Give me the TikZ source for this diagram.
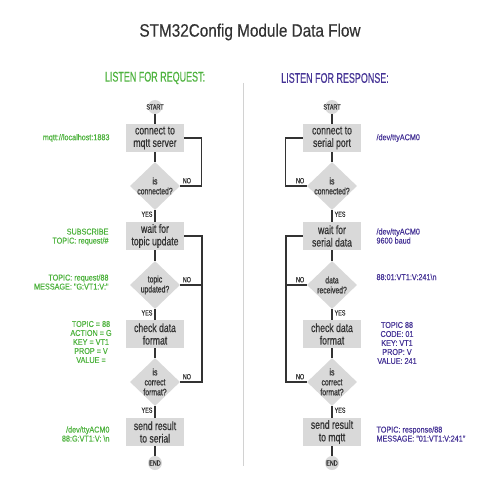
\documentclass[tikz,border=0pt]{standalone}
\usepackage{fontspec}
\setmainfont[FakeStretch=0.72, FakeBold=0.6]{Liberation Sans}
\newfontfamily\widefont[FakeStretch=0.85, FakeBold=0.4]{Liberation Sans}
\newfontfamily\narrowfont[FakeStretch=0.64, FakeBold=0.5]{Liberation Sans}
\usetikzlibrary{shapes.geometric}

\definecolor{reqgreen}{RGB}{78,178,62}
\definecolor{resppurple}{RGB}{70,52,150}
\definecolor{boxgray}{RGB}{217,217,217}
\definecolor{ink}{RGB}{51,51,51}

\tikzset{
  stepbox/.style={fill=boxgray, text=ink, minimum width=58pt, minimum height=28pt,
    inner sep=0, align=center, font=\fontsize{12}{12.5}\selectfont},
  decision/.style={diamond, fill=boxgray, text=ink, aspect=1, inner sep=-7pt,
    minimum width=50pt, minimum height=48pt, align=center, font=\fontsize{9.5}{10}\selectfont},
  terminal/.style={circle, fill=boxgray, text=ink, minimum size=14pt, inner sep=-4pt,
    font=\fontsize{7.5}{7.5}\selectfont},
  flow/.style={draw=ink, line width=1.3pt},
  answer/.style={text=ink, inner sep=2pt, font=\fontsize{7.5}{8}\selectfont},
  reqnote/.style={text=reqgreen, align=right, anchor=east, font=\widefont\fontsize{8.5}{9}\selectfont},
  respnote/.style={text=resppurple, align=left, anchor=west, font=\widefont\fontsize{8.5}{9}\selectfont},
}

\begin{document}
\begin{tikzpicture}[x=1pt, y=-1pt]

\useasboundingbox (0,0) rectangle (500,500);

\node[text=ink, font=\widefont\fontsize{18}{20}\selectfont] (title) at (250,32) {STM32Config Module Data Flow};

\node[text=reqgreen, font=\narrowfont\fontsize{14}{15}\selectfont] (reqhead) at (155,78) {LISTEN FOR REQUEST:};
\node[text=resppurple, font=\narrowfont\fontsize{14}{15}\selectfont] (resphead) at (335,78) {LISTEN FOR RESPONSE:};

\draw[gray!35, line width=1pt] (243,83) -- (243,466);

% request side
\node[terminal] (reqstart) at (155,107) {START};
\node[stepbox] (mqttconn) at (155,138) {connect to\\mqtt server};
\node[decision] (mqttok) at (155,186) {is\\connected?};
\node[stepbox] (topicwait) at (155,236) {wait for\\topic update};
\node[decision] (topicnew) at (155,285) {topic\\updated?};
\node[stepbox] (reqcheck) at (155,334) {check data\\format};
\node[decision] (reqvalid) at (155,382) {is\\correct\\format?};
\node[stepbox] (serialsend) at (155,432) {send result\\to serial};
\node[terminal] (reqend) at (155,463) {END};

\coordinate (reqloop) at (202,382);

\draw[flow] (reqstart) -- (mqttconn);
\draw[flow] (mqttconn) -- (mqttok);
\draw[flow] (mqttok) -- node[answer, left, pos=0.35] {YES} (topicwait);
\draw[flow] (mqttok.east) -- node[answer, above right, pos=0] {NO} ++(21,0) |- (mqttconn.east);
\draw[flow] (topicwait) -- (topicnew);
\draw[flow] (topicnew) -- node[answer, left, pos=0.35] {YES} (reqcheck);
\draw[flow] (topicnew.east) -- node[answer, above right, pos=0] {NO} (topicnew.east -| reqloop);
\draw[flow] (reqcheck) -- (reqvalid);
\draw[flow] (reqvalid.east) -- node[answer, above right, pos=0] {NO} (reqloop) |- (topicwait.east);
\draw[flow] (reqvalid) -- node[answer, left, pos=0.35] {YES} (serialsend);
\draw[flow] (serialsend) -- (reqend);

\node[reqnote] (brokerurl) at (113,138) {mqtt://localhost:1883};
\node[reqnote] (subinfo) at (112,237) {SUBSCRIBE\\TOPIC: request/\#};
\node[reqnote] (reqmsg) at (112,282) {TOPIC: request/88\\MESSAGE: "G:VT1:V:"};
\node[text=reqgreen, align=center, font=\widefont\fontsize{8.5}{9}\selectfont] (reqfields) at (91,342)
  {TOPIC = 88\\ACTION = G\\KEY = VT1\\PROP = V\\VALUE =};
\node[reqnote] (serialout) at (113,434) {/dev/ttyACM0\\88:G:VT1:V: \textbackslash n};

% response side
\node[terminal] (respstart) at (332,107) {START};
\node[stepbox] (portconn) at (332,138) {connect to\\serial port};
\node[decision] (portok) at (332,186) {is\\connected?};
\node[stepbox] (datawait) at (332,236) {wait for\\serial data};
\node[decision] (datanew) at (332,285) {data\\received?};
\node[stepbox] (respcheck) at (332,334) {check data\\format};
\node[decision] (respvalid) at (332,382) {is\\correct\\format?};
\node[stepbox] (mqttsend) at (332,432) {send result\\to mqtt};
\node[terminal] (respend) at (332,463) {END};

\coordinate (resploop) at (286,382);

\draw[flow] (respstart) -- (portconn);
\draw[flow] (portconn) -- (portok);
\draw[flow] (portok) -- node[answer, right, pos=0.35] {YES} (datawait);
\draw[flow] (portok.west) -- node[answer, above left, pos=0] {NO} ++(-21,0) |- (portconn.west);
\draw[flow] (datawait) -- (datanew);
\draw[flow] (datanew) -- node[answer, right, pos=0.35] {YES} (respcheck);
\draw[flow] (datanew.west) -- node[answer, above left, pos=0] {NO} (datanew.west -| resploop);
\draw[flow] (respcheck) -- (respvalid);
\draw[flow] (respvalid.west) -- node[answer, above left, pos=0] {NO} (resploop) |- (datawait.west);
\draw[flow] (respvalid) -- node[answer, right, pos=0.35] {YES} (mqttsend);
\draw[flow] (mqttsend) -- (respend);

\node[respnote] (portname) at (373,138) {/dev/ttyACM0};
\node[respnote] (portbaud) at (373,236) {/dev/ttyACM0\\9600 baud};
\node[respnote] (rawline) at (373,277) {88:01:VT1:V:241\textbackslash n};
\node[text=resppurple, align=center, font=\widefont\fontsize{8.5}{9}\selectfont] (respfields) at (397,343)
  {TOPIC 88\\CODE: 01\\KEY: VT1\\PROP: V\\VALUE: 241};
\node[respnote] (respmsg) at (373,434) {TOPIC: response/88\\MESSAGE: "01:VT1:V:241"};

\end{tikzpicture}
\end{document}
